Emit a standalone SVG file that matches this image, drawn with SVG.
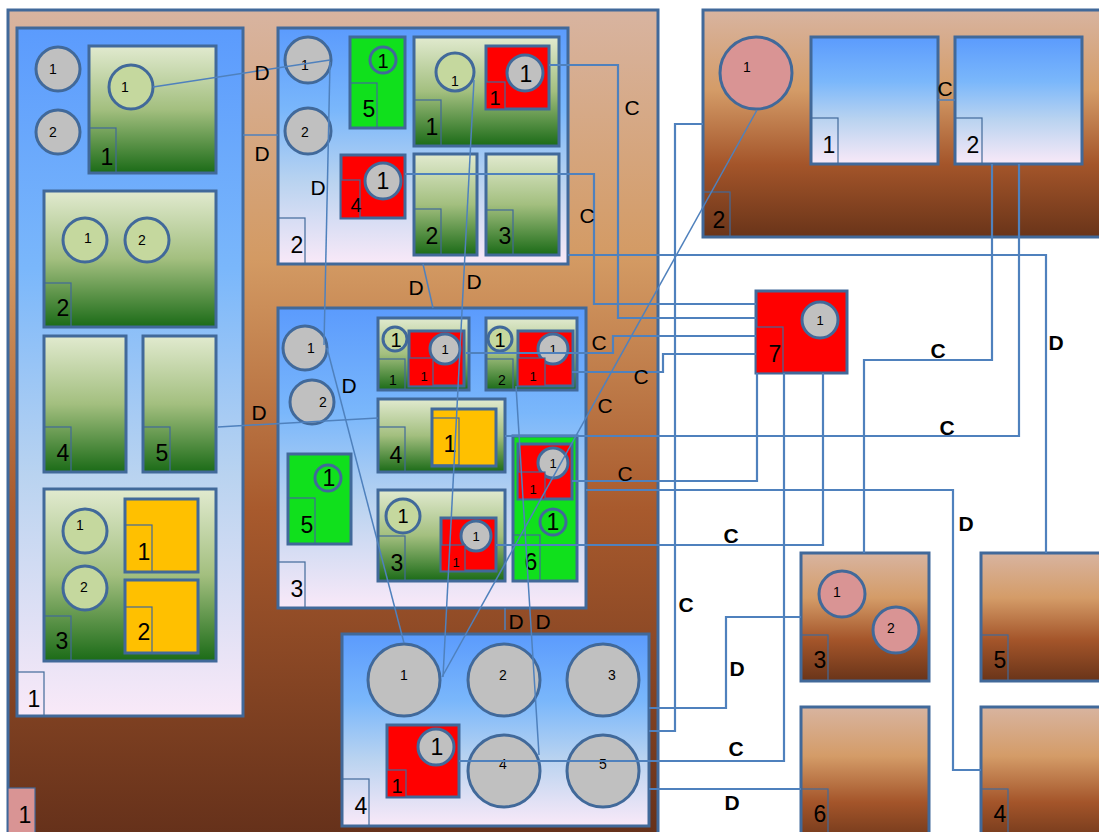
<svg xmlns="http://www.w3.org/2000/svg" width="1099" height="832" viewBox="0 0 1099 832">
<defs>
<linearGradient id="gBrownTall" x1="0" y1="0" x2="0" y2="1"><stop offset="0" stop-color="#d8b4a0"/><stop offset="0.3" stop-color="#d39a63"/><stop offset="0.6" stop-color="#a85a2d"/><stop offset="1" stop-color="#64301a"/></linearGradient>
<linearGradient id="gBrown" x1="0" y1="0" x2="0" y2="1"><stop offset="0" stop-color="#d8b4a0"/><stop offset="0.35" stop-color="#d49c68"/><stop offset="0.68" stop-color="#a4552a"/><stop offset="1" stop-color="#693419"/></linearGradient>
<linearGradient id="gBlue" x1="0" y1="0" x2="0" y2="1"><stop offset="0" stop-color="#5b9bfd"/><stop offset="0.35" stop-color="#7ab7fb"/><stop offset="0.65" stop-color="#b9d3f0"/><stop offset="1" stop-color="#f9e9f8"/></linearGradient>
<linearGradient id="gGreen" x1="0" y1="0" x2="0" y2="1"><stop offset="0" stop-color="#e1eacf"/><stop offset="0.5" stop-color="#a3bf7f"/><stop offset="1" stop-color="#1b6b17"/></linearGradient>
</defs>
<style>
.brownT{fill:url(#gBrownTall);stroke:#41699a;stroke-width:3}
.brown{fill:url(#gBrown);stroke:#41699a;stroke-width:3}
.blue{fill:url(#gBlue);stroke:#41699a;stroke-width:3}
.green{fill:url(#gGreen);stroke:#41699a;stroke-width:3}
.lime{fill:#10e01c;stroke:#41699a;stroke-width:3}
.red{fill:#ff0000;stroke:#41699a;stroke-width:3}
.yellow{fill:#ffc000;stroke:#41699a;stroke-width:3}
.gc{fill:#c0c0c0;stroke:#41699a;stroke-width:3}
.lc{fill:#c5d89e;stroke:#41699a;stroke-width:3}
.pc{fill:#d99494;stroke:#41699a;stroke-width:3}
.lb{fill:none;stroke:#41699a;stroke-width:1.2}
.lbp{fill:#d99494;stroke:#41699a;stroke-width:1.2}
.lbr{fill:#ff0000;stroke:#41699a;stroke-width:1.2}
text{font-family:"Liberation Sans",Arial,sans-serif;fill:#000;text-anchor:middle}
.L{font-size:23px}
.M{font-size:20px}
.S{font-size:14px}
.X{font-size:13px}
.cn{fill:none;stroke:#4f81bd;stroke-width:1.5}
.cw{fill:none;stroke:#4f81bd;stroke-width:2.2}
.lab{font-size:21px}
.labb{font-size:21px;font-weight:bold}
</style>

<g id="c1">
<rect class="brownT" x="8" y="10" width="650" height="832"/>
<rect class="lbp" x="8" y="788" width="27" height="50"/><text class="L" x="25" y="823">1</text>
</g>
<g id="c2">
<rect class="brown" x="703" y="10" width="400" height="227"/>
<rect class="lb" x="703" y="192" width="27" height="45"/><text class="L" x="719" y="228">2</text>
<circle class="pc" cx="756" cy="73" r="36"/><text class="S" x="747" y="72">1</text>
</g>
<g id="c2-1"><rect class="blue" x="811" y="37" width="127" height="127"/><rect class="lb" x="811" y="118" width="27" height="46"/><text class="L" x="829" y="153">1</text></g>
<g id="c2-2"><rect class="blue" x="955" y="37" width="127" height="127"/><rect class="lb" x="955" y="118" width="27" height="46"/><text class="L" x="973" y="153">2</text></g>

<g id="b1">
<rect class="blue" x="17" y="28" width="226" height="688"/>
<rect class="lb" x="17" y="672" width="27" height="44"/><text class="L" x="34" y="707">1</text>
<circle class="gc" cx="58" cy="69" r="22"/><text class="S" x="53" y="74">1</text>
<circle class="gc" cx="58" cy="132" r="22"/><text class="S" x="53" y="137">2</text>
</g>
<g id="b1-1"><rect class="green" x="89" y="46" width="127" height="127"/><circle class="lc" cx="131" cy="87" r="22"/><text class="S" x="125" y="92">1</text><rect class="lb" x="89" y="128" width="27" height="45"/><text class="L" x="107" y="165">1</text></g>
<g id="b1-2"><rect class="green" x="44" y="191" width="172" height="136"/><circle class="lc" cx="85" cy="240" r="22"/><text class="S" x="88" y="243">1</text><circle class="lc" cx="147" cy="240" r="22"/><text class="S" x="142" y="245">2</text><rect class="lb" x="44" y="283" width="27" height="44"/><text class="L" x="63" y="316">2</text></g>
<g id="b1-4"><rect class="green" x="44" y="336" width="82" height="136"/><rect class="lb" x="44" y="427" width="27" height="45"/><text class="L" x="63" y="461">4</text></g>
<g id="b1-5"><rect class="green" x="143" y="336" width="73" height="136"/><rect class="lb" x="143" y="427" width="27" height="45"/><text class="L" x="162" y="461">5</text></g>
<g id="b1-3"><rect class="green" x="44" y="489" width="172" height="172"/><circle class="lc" cx="85" cy="531" r="22"/><text class="S" x="80" y="530">1</text><circle class="lc" cx="85" cy="588" r="22"/><text class="S" x="84" y="592">2</text><rect class="lb" x="44" y="616" width="27" height="45"/><text class="L" x="62" y="649">3</text></g>
<g id="b1-3-1"><rect class="yellow" x="125" y="499" width="73" height="73"/><rect class="lb" x="125" y="525" width="27" height="47"/><text class="L" x="144" y="560">1</text></g>
<g id="b1-3-2"><rect class="yellow" x="125" y="580" width="73" height="73"/><rect class="lb" x="125" y="607" width="27" height="46"/><text class="L" x="144" y="640">2</text></g>

<g id="b2">
<rect class="blue" x="278" y="28" width="290" height="236"/>
<rect class="lb" x="278" y="218" width="27" height="46"/><text class="L" x="297" y="253">2</text>
<circle class="gc" cx="308" cy="60" r="23"/><text class="S" x="305" y="70">1</text>
<circle class="gc" cx="308" cy="131" r="23"/><text class="S" x="305" y="137">2</text>
</g>
<g id="b2-5"><rect class="lime" x="350" y="37" width="55" height="91"/><circle class="lime" cx="383" cy="60" r="13"/><text class="M" x="383" y="68">1</text><rect class="lb" x="350" y="83" width="27" height="45"/><text class="L" x="369" y="117">5</text></g>
<g id="b2-1"><rect class="green" x="414" y="37" width="145" height="109"/><circle class="lc" cx="455" cy="72" r="19"/><text class="S" x="455" y="86">1</text><rect class="lb" x="414" y="100" width="27" height="46"/><text class="L" x="432" y="135">1</text></g>
<g id="b2-1-1"><rect class="red" x="486" y="46" width="63" height="63"/><circle class="gc" cx="525" cy="73" r="18"/><text class="L" x="526" y="82">1</text><rect class="lbr" x="486" y="82" width="19" height="27"/><text class="M" x="495" y="105">1</text></g>
<g id="b2-4"><rect class="red" x="341" y="155" width="64" height="63"/><circle class="gc" cx="383" cy="181" r="18"/><text class="L" x="383" y="189">1</text><rect class="lbr" x="341" y="180" width="19" height="38"/><text class="M" x="356" y="212">4</text></g>
<g id="b2-2"><rect class="green" x="414" y="154" width="63" height="101"/><rect class="lb" x="414" y="209" width="27" height="46"/><text class="L" x="432" y="244">2</text></g>
<g id="b2-3"><rect class="green" x="486" y="154" width="73" height="101"/><rect class="lb" x="486" y="210" width="27" height="45"/><text class="L" x="505" y="244">3</text></g>

<g id="b3">
<rect class="blue" x="278" y="308" width="308" height="300"/>
<rect class="lb" x="278" y="562" width="27" height="46"/><text class="L" x="297" y="597">3</text>
<circle class="gc" cx="305" cy="348" r="22"/><text class="S" x="311" y="353">1</text>
<circle class="gc" cx="312" cy="402" r="22"/><text class="S" x="323" y="407">2</text>
</g>
<g id="b3-1"><rect class="green" x="378" y="318" width="91" height="72"/><circle class="lc" cx="395" cy="339" r="12"/><text class="M" x="396" y="347">1</text><rect class="lb" x="378" y="359" width="27" height="31"/><text class="S" x="393" y="385">1</text></g>
<g id="b3-1-1"><rect class="red" x="409" y="331" width="55" height="55"/><circle class="gc" cx="445" cy="349" r="15"/><text class="X" x="445" y="354">1</text><rect class="lbr" x="409" y="358" width="24" height="28"/><text class="X" x="424" y="381">1</text></g>
<g id="b3-2"><rect class="green" x="486" y="318" width="91" height="72"/><circle class="lc" cx="500" cy="339" r="12"/><text class="M" x="500" y="347">1</text><rect class="lb" x="486" y="359" width="27" height="31"/><text class="S" x="502" y="385">2</text></g>
<g id="b3-2-1"><rect class="red" x="518" y="331" width="55" height="55"/><circle class="gc" cx="553" cy="349" r="15"/><text class="X" x="553" y="354">1</text><rect class="lbr" x="518" y="358" width="27" height="28"/><text class="X" x="533" y="381">1</text></g>
<g id="b3-4"><rect class="green" x="378" y="399" width="127" height="73"/><rect class="lb" x="378" y="427" width="27" height="45"/><text class="L" x="396" y="463">4</text></g>
<g id="b3-4-1"><rect class="yellow" x="432" y="409" width="64" height="57"/><rect class="lb" x="432" y="418" width="27" height="47"/><text class="L" x="450" y="452">1</text></g>
<g id="b3-5"><rect class="lime" x="288" y="454" width="63" height="90"/><circle class="lime" cx="328" cy="478" r="13"/><text class="L" x="329" y="486">1</text><rect class="lb" x="288" y="498" width="27" height="46"/><text class="L" x="307" y="533">5</text></g>
<g id="b3-3"><rect class="green" x="378" y="490" width="127" height="91"/><circle class="lc" cx="403" cy="516" r="17"/><text class="M" x="403" y="523">1</text><rect class="lb" x="378" y="536" width="27" height="45"/><text class="L" x="397" y="571">3</text></g>
<g id="b3-3-1"><rect class="red" x="441" y="518" width="55" height="53"/><circle class="gc" cx="476" cy="536" r="15"/><text class="X" x="476" y="541">1</text><rect class="lbr" x="441" y="545" width="24" height="26"/><text class="X" x="456" y="567">1</text></g>
<g id="b3-6"><rect class="lime" x="513" y="436" width="64" height="145"/><circle class="lime" cx="553" cy="522" r="13"/><text class="L" x="553" y="530">1</text><rect class="lb" x="513" y="535" width="27" height="46"/><text class="L" x="531" y="570">6</text></g>
<g id="b3-6-1"><rect class="red" x="518" y="444" width="54" height="55"/><circle class="gc" cx="553" cy="463" r="15"/><text class="X" x="553" y="468">1</text><rect class="lbr" x="518" y="472" width="27" height="27"/><text class="X" x="533" y="494">1</text></g>

<g id="b4">
<rect class="blue" x="342" y="634" width="307" height="192"/>
<rect class="lb" x="342" y="779" width="27" height="47"/><text class="L" x="361" y="814">4</text>
<circle class="gc" cx="404" cy="680" r="36"/><text class="S" x="404" y="680">1</text>
<circle class="gc" cx="504" cy="680" r="36"/><text class="S" x="503" y="680">2</text>
<circle class="gc" cx="603" cy="680" r="36"/><text class="S" x="612" y="680">3</text>
<circle class="gc" cx="504" cy="771" r="36"/><text class="S" x="503" y="769">4</text>
<circle class="gc" cx="603" cy="771" r="36"/><text class="S" x="603" y="769">5</text>
</g>
<g id="b4-1"><rect class="red" x="387" y="725" width="72" height="72"/><circle class="gc" cx="436" cy="747" r="18"/><text class="L" x="437" y="755">1</text><rect class="lbr" x="387" y="770" width="19" height="27"/><text class="M" x="397" y="793">1</text></g>

<g id="n7"><rect class="red" x="756" y="291" width="91" height="82"/><circle class="gc" cx="820" cy="320" r="18"/><text class="X" x="820" y="325">1</text><rect class="lbr" x="756" y="327" width="27" height="46"/><text class="L" x="775" y="362">7</text></g>
<g id="n3"><rect class="brown" x="801" y="553" width="128" height="128"/><circle class="pc" cx="842" cy="594" r="23"/><text class="S" x="837" y="597">1</text><circle class="pc" cx="896" cy="630" r="23"/><text class="S" x="891" y="633">2</text><rect class="lb" x="801" y="635" width="27" height="46"/><text class="L" x="820" y="668">3</text></g>
<g id="n5"><rect class="brown" x="981" y="553" width="130" height="128"/><rect class="lb" x="981" y="635" width="27" height="46"/><text class="L" x="1000" y="668">5</text></g>
<g id="n6"><rect class="brown" x="801" y="707" width="128" height="140"/><rect class="lb" x="801" y="789" width="27" height="50"/><text class="L" x="820" y="822">6</text></g>
<g id="n4"><rect class="brown" x="981" y="707" width="130" height="140"/><rect class="lb" x="981" y="789" width="27" height="50"/><text class="L" x="1000" y="822">4</text></g>

<g id="connectors">
<line class="cn" x1="153" y1="87" x2="330" y2="60"/>
<line class="cn" x1="243" y1="135" x2="278" y2="135"/>
<line class="cn" x1="218" y1="427" x2="378" y2="418"/>
<line class="cn" x1="330" y1="62" x2="324" y2="345"/>
<line class="cn" x1="423" y1="264" x2="433" y2="308"/>
<line class="cn" x1="474" y1="80" x2="443" y2="677"/>
<line class="cn" x1="327" y1="348" x2="404" y2="643"/>
<line class="cn" x1="442" y1="677" x2="757" y2="110"/>
<line class="cn" x1="516" y1="386" x2="539" y2="755"/>
<line class="cn" x1="505" y1="608" x2="505" y2="630"/>
<line class="cn" x1="938" y1="100" x2="955" y2="100"/>
<polyline class="cw" points="549,65 618,65 618,318 756,318"/>
<polyline class="cw" points="405,174 594,174 594,304 756,304"/>
<polyline class="cw" points="568,255 1046,255 1046,553"/>
<polyline class="cw" points="649,731 675,731 675,124 703,124"/>
<polyline class="cw" points="466,353 613,353 613,336 756,336"/>
<polyline class="cw" points="572,372 663,372 663,354 756,354"/>
<polyline class="cw" points="505,436 1019,436 1019,164"/>
<polyline class="cw" points="992,164 992,360 864,360 864,553"/>
<polyline class="cw" points="572,481 757,481 757,373"/>
<polyline class="cw" points="586,490 953,490 953,770 981,770"/>
<polyline class="cw" points="496,545 823,545 823,373"/>
<polyline class="cw" points="459,761 784,761 784,373"/>
<polyline class="cw" points="649,708 726,708 726,617 801,617"/>
<polyline class="cw" points="649,789 801,789"/>
<text class="lab" x="262" y="80">D</text>
<text class="lab" x="262" y="161">D</text>
<text class="lab" x="318" y="195">D</text>
<text class="lab" x="416" y="295">D</text>
<text class="lab" x="474" y="289">D</text>
<text class="lab" x="349" y="393">D</text>
<text class="lab" x="259" y="420">D</text>
<text class="lab" x="516" y="629">D</text>
<text class="lab" x="543" y="629">D</text>
<text class="lab" x="632" y="115">C</text>
<text class="lab" x="587" y="223">C</text>
<text class="lab" x="599" y="350">C</text>
<text class="lab" x="641" y="384">C</text>
<text class="lab" x="605" y="413">C</text>
<text class="lab" x="625" y="481">C</text>
<text class="lab" x="945" y="96">C</text>
<text class="labb" x="938" y="358">C</text>
<text class="labb" x="947" y="435">C</text>
<text class="labb" x="731" y="543">C</text>
<text class="labb" x="686" y="612">C</text>
<text class="labb" x="736" y="756">C</text>
<text class="labb" x="1056" y="350">D</text>
<text class="labb" x="966" y="531">D</text>
<text class="labb" x="737" y="676">D</text>
<text class="labb" x="732" y="810">D</text>
</g>
</svg>
